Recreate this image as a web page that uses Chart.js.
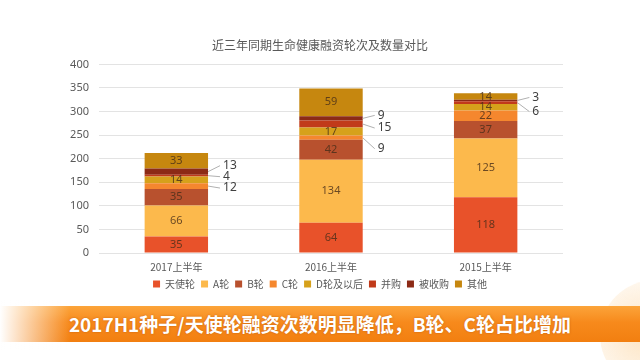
<!DOCTYPE html>
<html>
<head>
<meta charset="utf-8">
<script src="https://cdn.jsdelivr.net/npm/chart.js@4"></script>
<style>
  html, body { margin: 0; padding: 0; background: #fff; }
  #wrap { position: relative; width: 640px; height: 360px; overflow: hidden; font-family: "Noto Sans CJK SC", sans-serif; }
  #box { position: absolute; left: 0; top: 0; width: 640px; height: 300px; }
  #banner {
    position: absolute; left: 0; top: 306px; width: 640px; height: 36px;
    background: linear-gradient(to bottom, #fca43a 0%, #f78a1c 45%, #f27f10 100%);
    color: #fff; font-weight: bold; font-size: 19px; line-height: 36px; text-align: center;
    text-shadow: 0 0 2px rgba(150, 60, 0, 0.5);
  }
  #fade { position: absolute; left: 0; top: 300px; width: 70px; height: 50px; background: linear-gradient(to right, #fff 0%, rgba(255,255,255,0) 100%); }
  #deco { position: absolute; left: 600px; top: 280px; width: 110px; height: 110px; border-radius: 50%;
    background: radial-gradient(circle at 40% 50%, rgba(253, 226, 190, 0.9), rgba(253, 226, 190, 0.2) 70%); }
</style>
</head>
<body>
<div id="wrap">
  <div id="box"><canvas id="chart"></canvas></div>
  <div id="deco"></div>
  <div id="banner">2017H1种子/天使轮融资次数明显降低，B轮、C轮占比增加</div>
  <div id="fade"></div>
</div>
<script>
'use strict'

const periods = ['2017上半年', '2016上半年', '2015上半年'];
const seriesNames = ['天使轮', 'A轮', 'B轮', 'C轮', 'D轮及以后', '并购', '被收购', '其他'];
const angel = [35, 64, 118];
const roundA = [66, 134, 125];
const roundB = [35, 42, 37];
const roundC = [12, 9, 22];
const roundD = [14, 17, 14];
const merger = [4, 15, 6];
const acquired = [13, 9, 3];
const others = [33, 59, 14];
const yTicks = [0, 50, 100, 150, 200, 250, 300, 350, 400];

const seriesValues = [angel, roundA, roundB, roundC, roundD, merger, acquired, others];
const colors = ['#e8522a', '#fcb94c', '#b8512e', '#f5872e', '#d6a11b', '#c13a1a', '#8c2a16', '#c6870f'];

// labels drawn beside the bar: [dataset, bar, vertical shift]
const sideLabels = [
    [6, 0, -6], [5, 0, 1], [3, 0, 2],
    [6, 1, -3], [5, 1, 4], [3, 1, 11],
    [6, 2, -3], [5, 2, 9]
];

const datasets = [];
for (let i = 0; i < seriesNames.length; i++){
    datasets.push({
        label: seriesNames[i],
        data: seriesValues[i],
        backgroundColor: colors[i],
        borderWidth: 0,
        barPercentage: 0.41,
        categoryPercentage: 1
    });
}

const labelPlugin = {
    id: 'segLabels',
    afterDatasetsDraw(chart){
        const ctx = chart.ctx;
        ctx.save();
        for (let d = 0; d < chart.data.datasets.length; d++){
            const meta = chart.getDatasetMeta(d);
            meta.data.forEach((bar, i) => {
                const value = chart.data.datasets[d].data[i];
                const cy = (bar.y + bar.base) / 2;
                const side = sideLabels.find(s => s[0] === d && s[1] === i);
                if (side){
                    const x0 = bar.x + bar.width / 2;
                    const ly = cy + side[2];
                    ctx.strokeStyle = '#b0b0b0';
                    ctx.lineWidth = 1;
                    ctx.beginPath();
                    ctx.moveTo(x0, cy);
                    ctx.lineTo(x0 + 12, ly);
                    ctx.stroke();
                    ctx.fillStyle = '#404040';
                    ctx.font = '12px "Noto Sans", sans-serif';
                    ctx.textAlign = 'left';
                    ctx.textBaseline = 'middle';
                    ctx.fillText(String(value), x0 + 15, ly);
                }else{
                    ctx.fillStyle = 'rgba(70, 45, 25, 0.8)';
                    ctx.font = '11px "Noto Sans", sans-serif';
                    ctx.textAlign = 'center';
                    ctx.textBaseline = 'middle';
                    ctx.fillText(String(value), bar.x, cy);
                }
            });
        }
        ctx.restore();
    }
};

new Chart(document.getElementById('chart'), {
    type: 'bar',
    data: { labels: periods, datasets: datasets },
    plugins: [labelPlugin],
    options: {
        responsive: true,
        maintainAspectRatio: false,
        animation: false,
        layout: { padding: { left: 0, right: 0, top: 38, bottom: 1 } },
        plugins: {
            title: {
                display: true,
                text: '近三年同期生命健康融资轮次及数量对比',
                color: '#595959',
                font: { family: '"Noto Sans CJK SC"', size: 12, weight: 'normal' },
                padding: { top: 0, bottom: 12 }
            },
            legend: {
                position: 'bottom',
                labels: {
                    boxWidth: 7, boxHeight: 7, padding: 6,
                    color: '#595959',
                    font: { family: '"Noto Sans CJK SC"', size: 10 }
                }
            },
            tooltip: { enabled: false }
        },
        scales: {
            x: {
                stacked: true,
                grid: { display: false },
                border: { display: false },
                ticks: { color: '#595959', font: { family: '"Noto Sans CJK SC"', size: 10 }, padding: 0 }
            },
            y: {
                stacked: true,
                min: 0, max: 400,
                afterBuildTicks: axis => { axis.ticks = yTicks.map(v => ({ value: v })); },
                afterFit: axis => { axis.width = 99; },
                grid: { color: '#e3e3e3', drawTicks: false },
                border: { display: false },
                ticks: { color: '#595959', font: { family: '"Noto Sans", sans-serif', size: 11 }, padding: 10 }
            },
            right: {
                position: 'right',
                grid: { display: false },
                border: { display: false },
                ticks: { display: false },
                afterFit: axis => { axis.width = 77; }
            }
        }
    }
});
</script>
</body>
</html>
